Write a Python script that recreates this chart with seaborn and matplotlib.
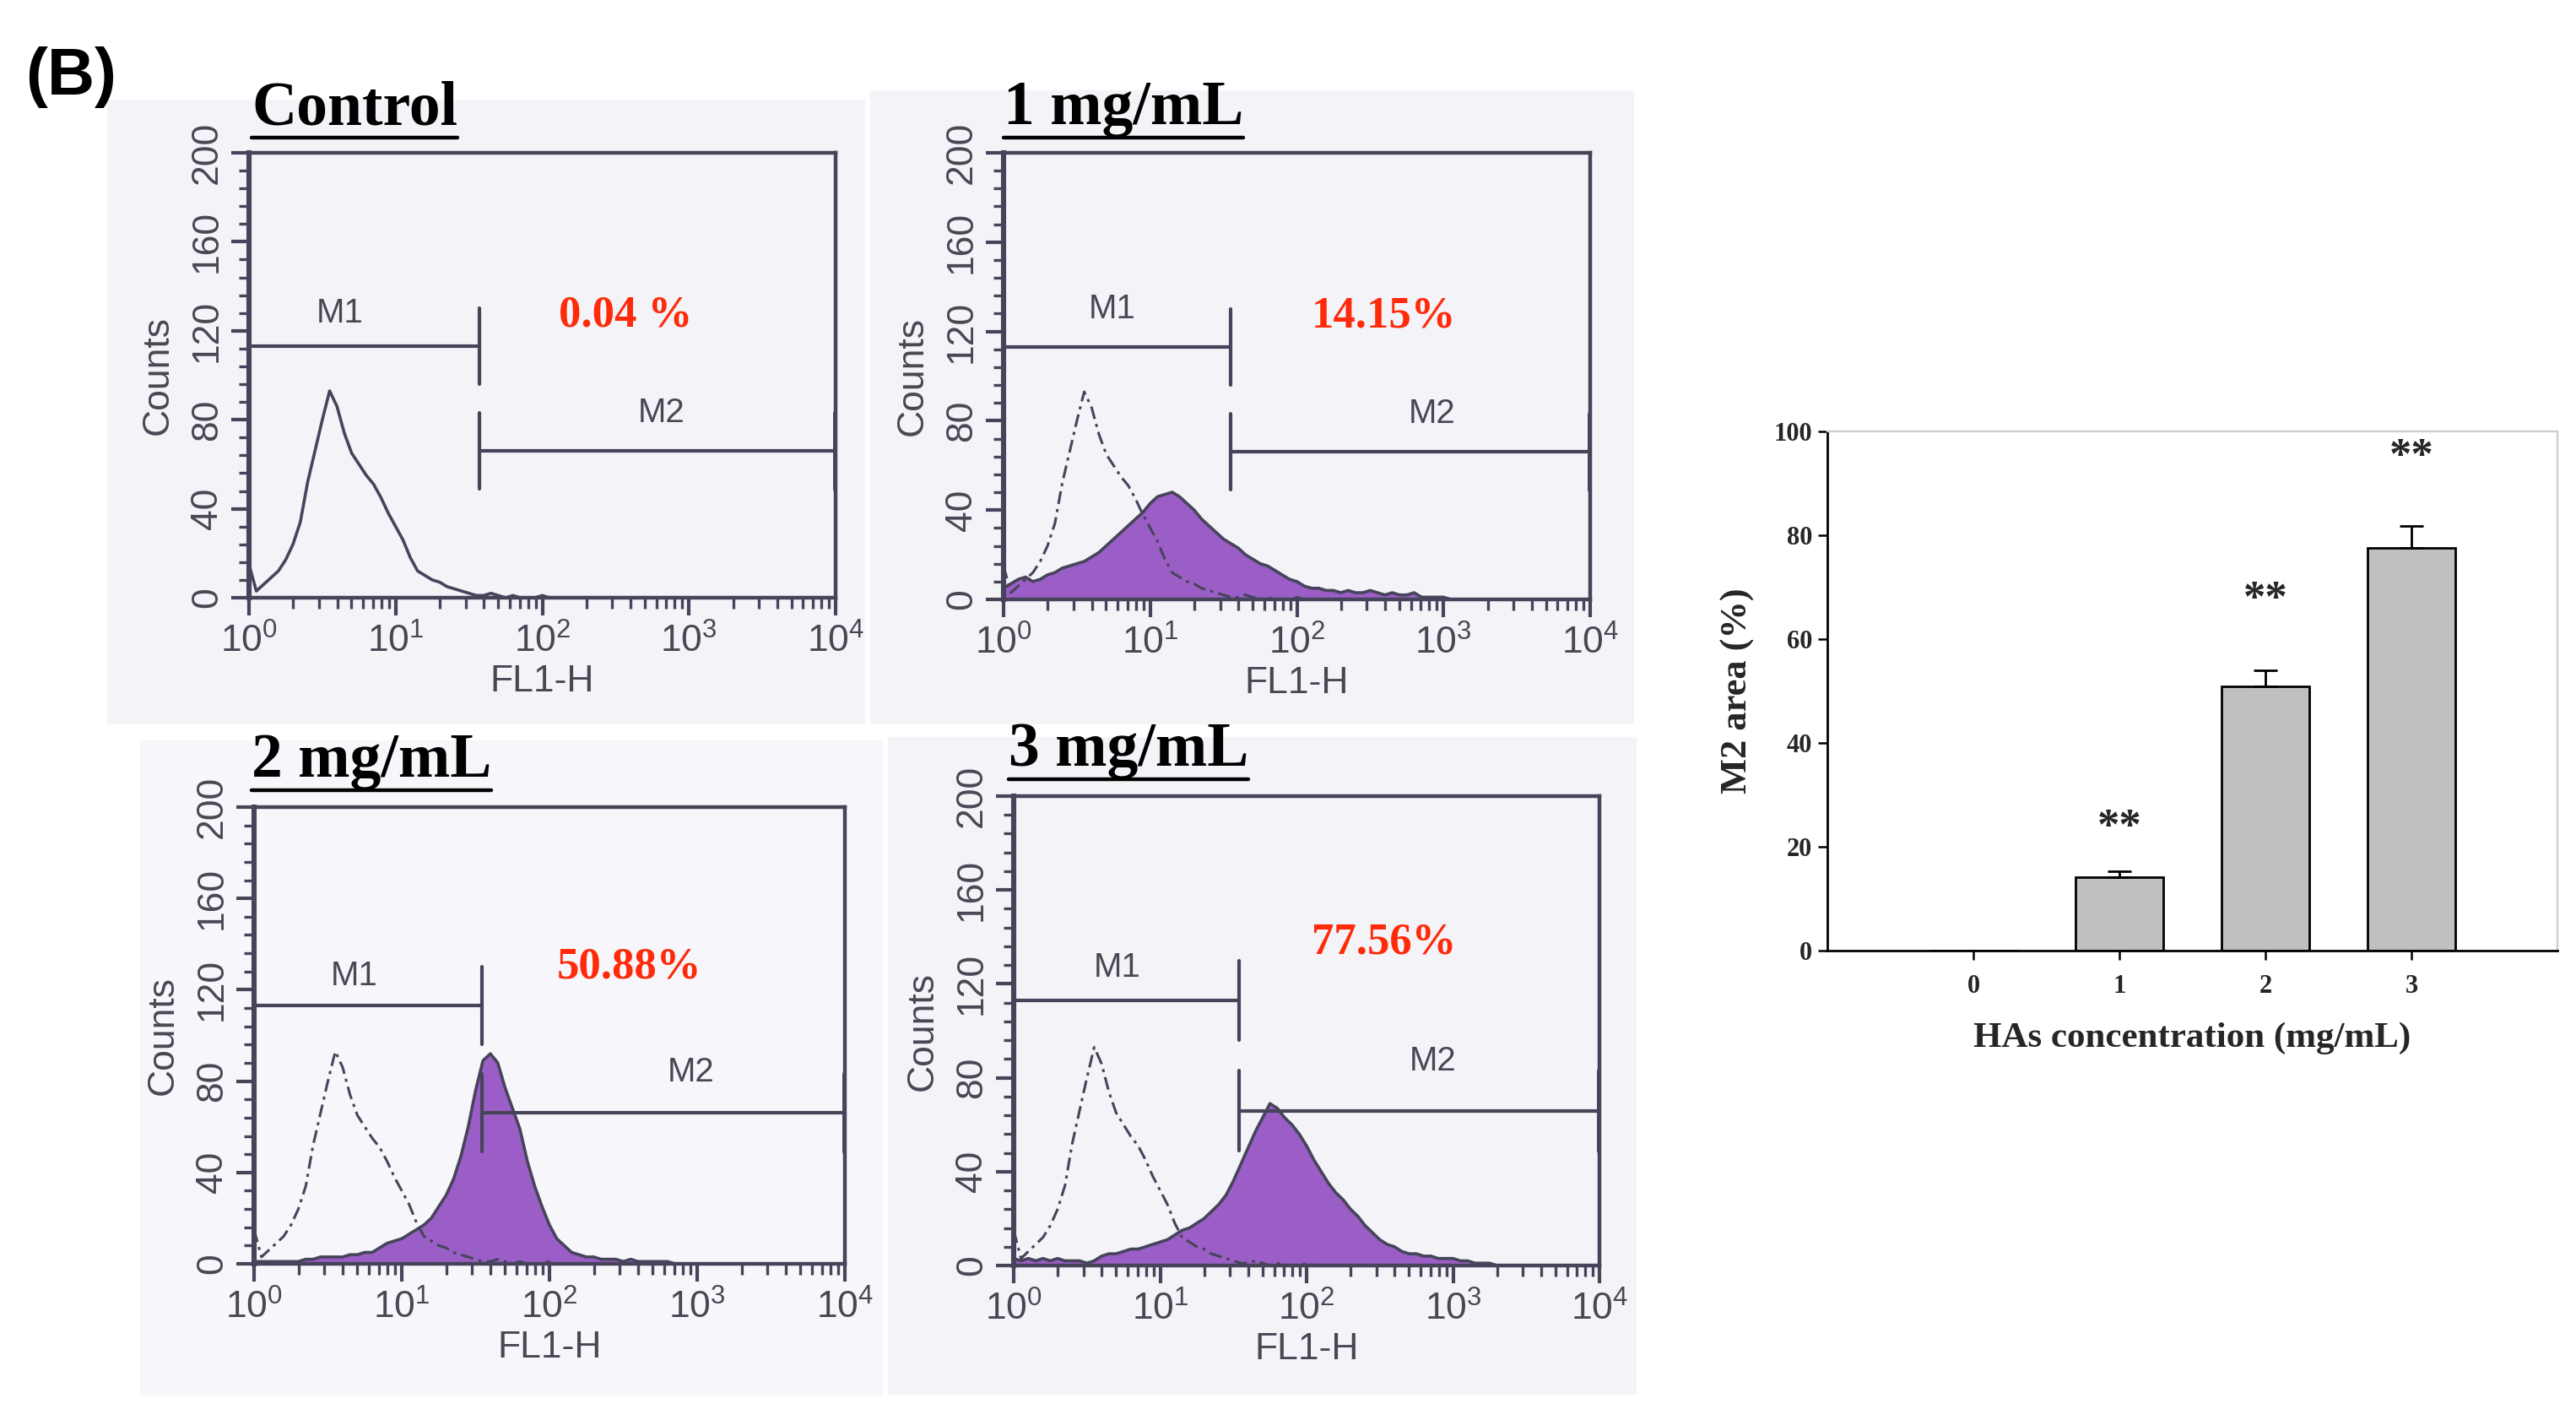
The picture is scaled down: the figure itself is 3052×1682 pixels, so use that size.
import numpy as np
import pandas as pd
import matplotlib
matplotlib.use("Agg")
import matplotlib.pyplot as plt
import seaborn as sns
from matplotlib.lines import Line2D
from matplotlib.patches import Rectangle
from matplotlib.ticker import FixedLocator, FixedFormatter, NullFormatter

# ---------------------------------------------------------------- data
# FL1-H channel positions (log10 decades) of the histogram bins
fl1_decade = [0.00, 0.05, 0.10, 0.15, 0.20, 0.25, 0.30, 0.35, 0.40, 0.45,
              0.50, 0.55, 0.60, 0.65, 0.70, 0.75, 0.80, 0.85, 0.90, 0.95,
              1.00, 1.05, 1.10, 1.15, 1.20, 1.25, 1.30, 1.35, 1.40, 1.45,
              1.50, 1.55, 1.60, 1.65, 1.70, 1.75, 1.80, 1.85, 1.90, 1.95,
              2.00, 2.05, 2.10, 2.15, 2.20, 2.25, 2.30, 2.35, 2.40, 2.45,
              2.50, 2.55, 2.60, 2.65, 2.70, 2.75, 2.80, 2.85, 2.90, 2.95,
              3.00, 3.05, 3.10, 3.15, 3.20, 3.25, 3.30, 3.35, 3.40, 3.45,
              3.50, 3.55, 3.60, 3.65, 3.70, 3.75, 3.80, 3.85, 3.90, 3.95,
              4.00]

counts_control = [15, 3, 6, 9, 12, 17, 24, 34, 52, 66,
                  80, 93, 86, 74, 65, 60, 55, 51, 45, 38,
                  32, 26, 18, 12, 10, 8, 7, 5, 4, 3,
                  2, 1, 1, 2, 1, 0, 1, 0, 0, 0,
                  1, 0, 0, 0, 0, 0, 0, 0, 0, 0,
                  0, 0, 0, 0, 0, 0, 0, 0, 0, 0,
                  0, 0, 0, 0, 0, 0, 0, 0, 0, 0,
                  0, 0, 0, 0, 0, 0, 0, 0, 0, 0,
                  0]

counts_1mg = [5, 7, 9, 10, 8, 9, 11, 12, 14, 15,
              16, 17, 19, 21, 24, 27, 30, 33, 36, 39,
              43, 46, 47, 48, 46, 43, 40, 36, 33, 30,
              27, 25, 23, 20, 18, 16, 15, 13, 11, 9,
              8, 6, 5, 5, 4, 4, 3, 4, 3, 3,
              4, 3, 2, 3, 2, 2, 3, 1, 1, 1,
              1, 0, 0, 0, 0, 0, 0, 0, 0, 0,
              0, 0, 0, 0, 0, 0, 0, 0, 0, 0,
              0]

counts_2mg = [1, 1, 1, 1, 1, 1, 1, 2, 2, 3,
              3, 3, 3, 4, 4, 5, 5, 7, 9, 10,
              11, 13, 15, 17, 20, 25, 30, 37, 47, 60,
              76, 89, 92, 88, 77, 68, 59, 45, 34, 25,
              17, 11, 8, 5, 4, 3, 3, 2, 2, 2,
              1, 2, 1, 1, 1, 1, 1, 0, 0, 0,
              0, 0, 0, 0, 0, 0, 0, 0, 0, 0,
              0, 0, 0, 0, 0, 0, 0, 0, 0, 0,
              0]

counts_3mg = [3, 2, 3, 2, 3, 2, 3, 2, 2, 2,
              1, 2, 4, 5, 5, 6, 7, 7, 8, 9,
              10, 11, 13, 15, 16, 18, 20, 23, 26, 30,
              36, 43, 50, 57, 63, 69, 67, 63, 60, 56,
              51, 45, 40, 35, 31, 28, 24, 21, 17, 14,
              11, 9, 8, 6, 5, 5, 4, 4, 3, 3,
              3, 2, 2, 1, 1, 1, 0, 0, 0, 0,
              0, 0, 0, 0, 0, 0, 0, 0, 0, 0,
              0]

panel_titles = ["Control", "1 mg/mL", "2 mg/mL", "3 mg/mL"]
panel_percent = ["0.04 %", "14.15%", "50.88%", "77.56%"]
m1_gate_end = [1.57, 1.55, 1.54, 1.54]     # M1/M2 boundary (decades)
m1_level = 113
m2_level = 66

conc_labels = ["0", "1", "2", "3"]
m2_area = [0.04, 14.15, 50.88, 77.56]
m2_err_up = [0.0, 1.2, 3.1, 4.3]
sig_marks = ["", "**", "**", "**"]

# ---------------------------------------------------------------- style
sns.set_style("white")
plt.rcParams["font.family"] = ["Liberation Sans", "DejaVu Sans"]
plt.rcParams["mathtext.fontset"] = "custom"
plt.rcParams["mathtext.rm"] = "Liberation Sans"
plt.rcParams["mathtext.it"] = "Liberation Sans"
plt.rcParams["mathtext.bf"] = "Liberation Sans"

W, H = 3052, 1682
fig = plt.figure(figsize=(W / 100, H / 100), dpi=100)
fig.patch.set_facecolor("white")

FLOW_TXT = "#4a4654"
FLOW_LINE = "#46445a"
PURPLE = "#9b5ec6"
RED = "#ff2a0a"


def px_axes(x0, y0, x1, y1):
    return fig.add_axes([x0 / W, 1 - y1 / H, (x1 - x0) / W, (y1 - y0) / H])


# light grey scanned-image backgrounds
bg_rects = [(127, 118, 1025, 858, "#f3f3f8"), (1031, 107, 1936, 858, "#f3f3f8"),
            (166, 877, 1046, 1653, "#f7f7fb"), (1052, 873, 1939, 1652, "#f3f3f8")]
for x0, y0, x1, y1, c in bg_rects:
    fig.add_artist(Rectangle((x0 / W, 1 - y1 / H), (x1 - x0) / W, (y1 - y0) / H,
                             transform=fig.transFigure, facecolor=c,
                             edgecolor="none", zorder=-10))

panel_boxes = [(295, 181, 990, 708), (1189, 181, 1884, 710),
               (301, 956, 1001, 1497), (1201, 943, 1895, 1499)]
title_pos = [(298, 147), (1189, 147), (298, 920), (1195, 907)]
pct_pos = [(2.57, 127), (2.59, 127), (2.54, 130), (2.53, 137.5)]
m1_pos = [(0.62, 128), (0.74, 130), (0.68, 126), (0.71, 127)]
m2_pos = [(2.81, 83), (2.92, 83), (2.96, 84), (2.86, 87)]
treated = [None, counts_1mg, counts_2mg, counts_3mg]

xs = [10 ** d for d in fl1_decade]
title_texts = []

for i in range(4):
    ax = px_axes(*panel_boxes[i])
    ax.set_facecolor("none")
    ax.set_xscale("log")
    if treated[i] is None:
        sns.lineplot(x=xs, y=counts_control, ax=ax, color=FLOW_LINE,
                     linewidth=2.6, zorder=3)
    else:
        ax.fill_between(xs, treated[i], 0, color=PURPLE, linewidth=0, zorder=2)
        sns.lineplot(x=xs, y=treated[i], ax=ax, color=FLOW_LINE,
                     linewidth=2.6, zorder=3)
        sns.lineplot(x=xs, y=counts_control, ax=ax, color=FLOW_LINE,
                     linewidth=2.2, linestyle=(0, (5, 2, 1.2, 2)), zorder=4)
    ax.set_xlim(1, 1e4)
    ax.set_ylim(0, 200)

    # gates
    ge = 10 ** m1_gate_end[i]
    ax.plot([1, ge], [m1_level, m1_level], color=FLOW_LINE, lw=3.0, zorder=5)
    ax.plot([1, 1], [m1_level - 17, m1_level + 17], color=FLOW_LINE, lw=4, zorder=5)
    ax.plot([ge, ge], [m1_level - 17, m1_level + 17], color=FLOW_LINE, lw=3.0, zorder=5)
    ax.plot([ge, 1e4], [m2_level, m2_level], color=FLOW_LINE, lw=3.0, zorder=5)
    ax.plot([ge, ge], [m2_level - 17, m2_level + 17], color=FLOW_LINE, lw=3.0, zorder=5)
    ax.plot([1e4, 1e4], [m2_level - 17, m2_level + 17], color=FLOW_LINE, lw=5, zorder=5)
    ax.text(10 ** m1_pos[i][0], m1_pos[i][1], "M1", ha="center", va="center",
            fontsize=29, color=FLOW_TXT)
    ax.text(10 ** m2_pos[i][0], m2_pos[i][1], "M2", ha="center", va="center",
            fontsize=29, color=FLOW_TXT)
    ax.text(10 ** pct_pos[i][0], pct_pos[i][1], panel_percent[i], ha="center",
            va="center", fontsize=38, color=RED, fontweight="bold",
            family="Liberation Serif")

    # axes styling
    for s in ax.spines.values():
        s.set_visible(True)
        s.set_color(FLOW_LINE)
        s.set_linewidth(3.2)
    ax.spines["left"].set_linewidth(4.4)
    ax.yaxis.set_major_locator(FixedLocator([0, 40, 80, 120, 160, 200]))
    ax.yaxis.set_minor_locator(FixedLocator(list(range(0, 201, 8))))
    ax.xaxis.set_major_locator(FixedLocator([1, 10, 100, 1000, 10000]))
    ax.xaxis.set_major_formatter(FixedFormatter(
        [r"$10^{0}$", r"$10^{1}$", r"$10^{2}$", r"$10^{3}$", r"$10^{4}$"]))
    minors = [m * 10 ** e for e in range(4) for m in range(2, 10)]
    ax.xaxis.set_minor_locator(FixedLocator(minors))
    ax.xaxis.set_minor_formatter(NullFormatter())
    ax.tick_params(which="both", bottom=True, left=True, top=False, right=False)
    ax.tick_params(which="major", direction="out", length=15, width=3.0,
                   color=FLOW_LINE, labelcolor=FLOW_TXT, labelsize=32, pad=7)
    ax.tick_params(which="minor", direction="out", length=9, width=2.4,
                   color=FLOW_LINE)
    ax.tick_params(axis="y", which="major", labelrotation=90, pad=6)
    for lab in ax.get_yticklabels():
        lab.set_va("center")
    ax.set_ylabel("Counts", fontsize=32, color=FLOW_TXT, labelpad=12)
    ax.set_xlabel("FL1-H", fontsize=32, color=FLOW_TXT, labelpad=4)

    tx, ty = title_pos[i]
    t = fig.text(tx / W, 1 - ty / H, panel_titles[i], ha="left", va="baseline",
                 fontsize=53, fontweight="bold", family="Liberation Serif",
                 color="black")
    title_texts.append((t, ty))

# panel letter
fig.text(30 / W, 1 - 112 / H, "(B)", ha="left", va="baseline", fontsize=56,
         fontweight="bold", family="Liberation Sans", color="black")

# ---------------------------------------------------------------- bar chart
axb = px_axes(2165, 511, 3030, 1126)
df = pd.DataFrame({"conc": conc_labels, "area": m2_area})
sns.barplot(data=df, x="conc", y="area", order=conc_labels, color="#c0c0c0",
            edgecolor="black", linewidth=2.0, width=0.6, errorbar=None,
            saturation=1, ax=axb)
pos = list(range(len(conc_labels)))
axb.errorbar(pos, m2_area, yerr=[[0] * len(m2_err_up), m2_err_up], fmt="none",
             ecolor="black", elinewidth=2.0, capsize=10, capthick=2.0, zorder=5)
star_y = [0, 23.5, 67.5, 95]
for p, s, yv in zip(pos, sig_marks, star_y):
    if s:
        axb.text(p, yv, s, ha="center", va="center", fontsize=38,
                 fontweight="bold", family="Liberation Serif")
axb.set_xlim(-1, 4)
axb.set_ylim(0, 100)
axb.set_yticks([0, 20, 40, 60, 80, 100])
for side in ["left", "bottom"]:
    axb.spines[side].set_color("black")
    axb.spines[side].set_linewidth(2.0)
for side in ["top", "right"]:
    axb.spines[side].set_visible(True)
    axb.spines[side].set_color("#cccccc")
    axb.spines[side].set_linewidth(1.6)
axb.tick_params(axis="both", bottom=True, left=True, direction="out",
                length=8, width=1.8, color="black", labelsize=22, pad=5)
axb.tick_params(axis="x", pad=12)
for lab in axb.get_xticklabels() + axb.get_yticklabels():
    lab.set_fontfamily("Liberation Serif")
    lab.set_fontweight("bold")
axb.set_xlabel("HAs concentration (mg/mL)", fontsize=31, fontweight="bold",
               family="Liberation Serif", labelpad=20)
axb.set_ylabel("M2 area (%)", fontsize=32, fontweight="bold",
               family="Liberation Serif", labelpad=16)

# ---------------------------------------------------------------- underlines
fig.canvas.draw()
r = fig.canvas.get_renderer()
for t, ty in title_texts:
    bb = t.get_window_extent(r)
    yl = 1 - (ty + 16) / H
    fig.add_artist(Line2D([bb.x0 / W, bb.x1 / W], [yl, yl],
                          transform=fig.transFigure, color="black", lw=3.2))

fig.savefig("out.png", dpi=100)
